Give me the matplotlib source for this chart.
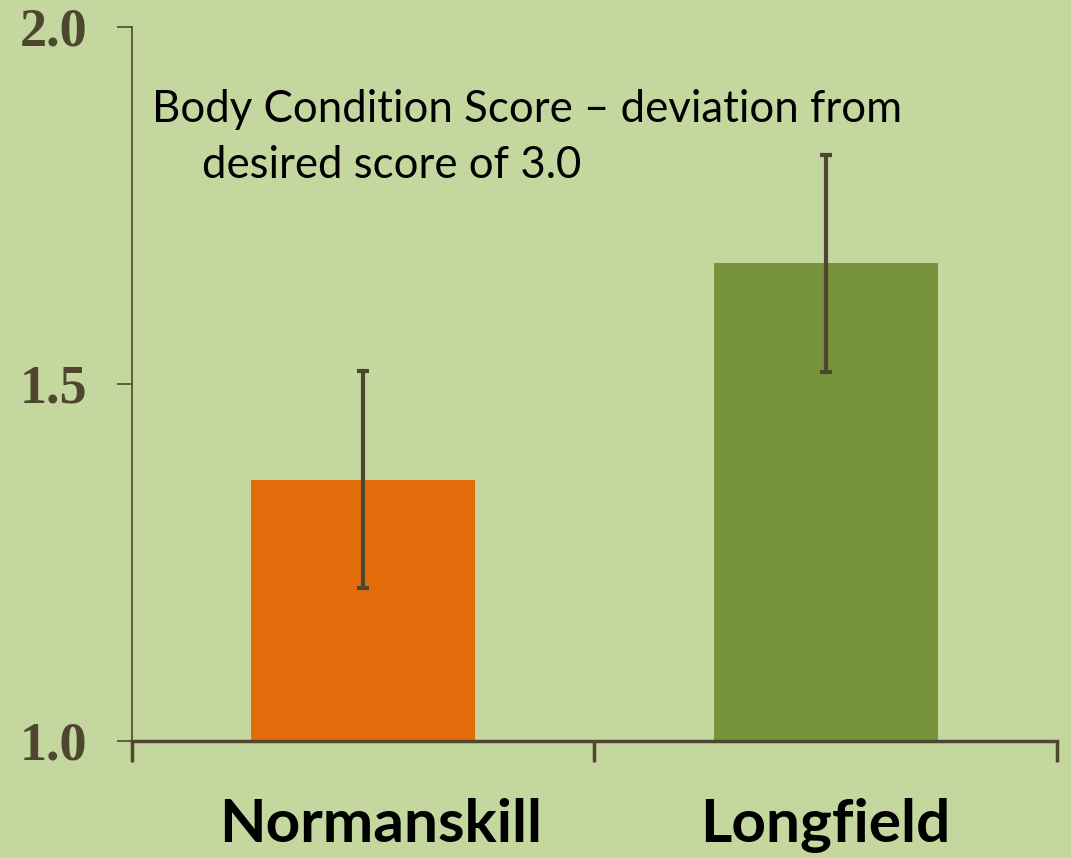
import numpy as np
import matplotlib
matplotlib.use("Agg")
import matplotlib.pyplot as plt

sites = ["Normanskill", "Longfield"]
bcs_dev = [1.366, 1.669]
bcs_err = [0.152, 0.152]
bar_colors = ["#E36C0A", "#77933C"]
label_shift_px = [17, 0]  # the original's first label sits a bit right of its bar

bg = "#C4D79F"
dark = "#4F4630"

fig = plt.figure(figsize=(10.71, 8.57), dpi=100, facecolor=bg)
ax = fig.add_axes([0.1232, 0.1354, 0.8637, 0.8331], facecolor=bg)

x = np.arange(len(sites))
ax.bar(x, np.array(bcs_dev) - 1.0, bottom=1.0, width=0.484, color=bar_colors, zorder=2)
ax.errorbar(x, bcs_dev, yerr=bcs_err, fmt="none", ecolor=dark, elinewidth=3,
            capsize=4.5, capthick=3, zorder=3)

ax.set_xlim(-0.5, 1.5)
ax.set_ylim(1.0, 2.0)

# spines
for s in ["top", "right"]:
    ax.spines[s].set_visible(False)
ax.spines["left"].set_color(dark)
ax.spines["left"].set_linewidth(1.2)
ax.spines["bottom"].set_color(dark)
ax.spines["bottom"].set_linewidth(2.5)
ax.spines["bottom"].set_zorder(4)

# y ticks
ax.set_yticks([1.0, 1.5, 2.0])
ax.set_yticklabels(["1.0", "1.5", "2.0"])
ax.tick_params(axis="y", direction="out", length=11, width=1.2, color=dark, pad=21)
for lbl in ax.get_yticklabels():
    lbl.set_fontfamily("Liberation Serif")
    lbl.set_fontweight("bold")
    lbl.set_fontsize(39)
    lbl.set_color(dark)

# x ticks at category boundaries
ax.set_xticks([-0.5, 0.5, 1.5])
ax.set_xticklabels([])
ax.tick_params(axis="x", direction="out", length=15, width=2.5, color=dark)

# category labels under the bars
for xi, name, dx in zip(x, sites, label_shift_px):
    ax.annotate(name, xy=(xi, 0), xycoords=("data", "axes fraction"),
                xytext=(dx, -101), textcoords="offset pixels",
                ha="center", va="baseline", fontsize=43.5, family="Lato",
                fontweight="bold", color="black", annotation_clip=False)

ax.text(0.0216, 0.867, "Body Condition Score \u2013 deviation from",
        transform=ax.transAxes, fontsize=31.5, family="Lato", color="black", va="baseline")
ax.text(0.0757, 0.789, "desired score of 3.0",
        transform=ax.transAxes, fontsize=31.5, family="Lato", color="black", va="baseline")

fig.savefig("out.png", dpi=100, facecolor=bg)
